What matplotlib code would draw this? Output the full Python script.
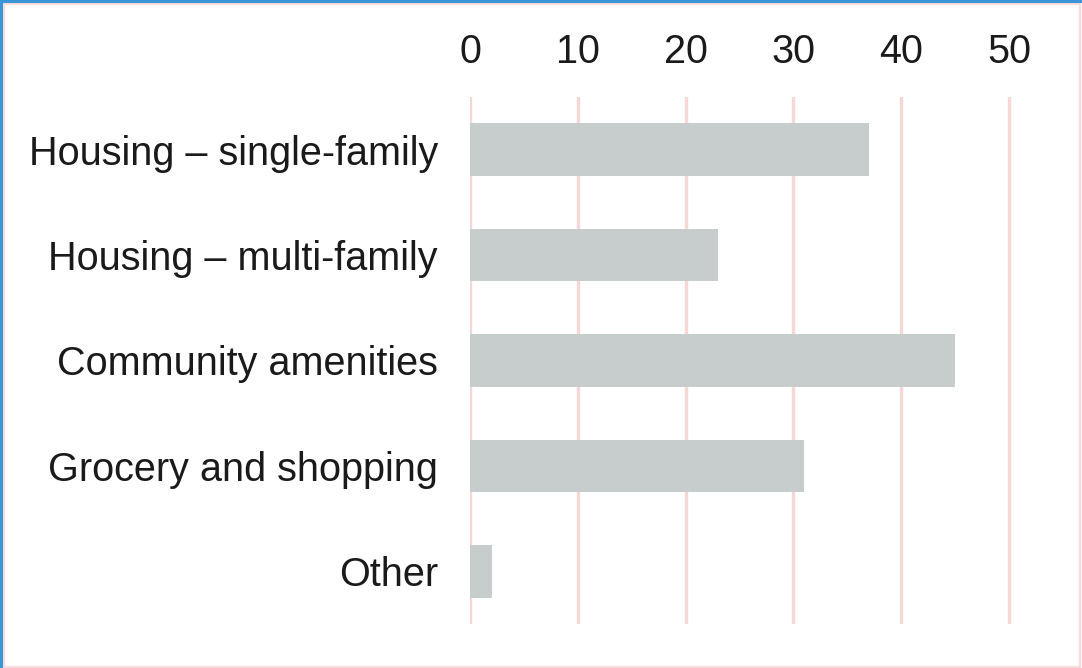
import matplotlib.pyplot as plt
from matplotlib.patches import Rectangle
from matplotlib.lines import Line2D

categories = ['Housing – single-family', 'Housing – multi-family', 'Community amenities',
              'Grocery and shopping', 'Other']
values = [37, 23, 45, 31, 2]
xticks = [0, 10, 20, 30, 40, 50]

plt.rcParams['font.family'] = ['Liberation Sans', 'DejaVu Sans']

fig = plt.figure(figsize=(10.82, 6.68), dpi=100)
ax = fig.add_axes([0.4344, 0.0659, 0.548, 0.7889])

pos = list(range(len(categories)))
ax.barh(pos, values, height=0.5, color='#c7cccc', zorder=2)
ax.set_ylim(len(categories) - 0.5, -0.5)
ax.set_xlim(0, 55)
ax.set_yticks(pos)
ax.set_yticklabels(categories)
ax.set_xticks(xticks)
ax.xaxis.tick_top()
ax.tick_params(axis='both', length=0, labelsize=28.5, labelcolor='#1a1a1a')
ax.tick_params(axis='x', pad=19)
ax.tick_params(axis='y', pad=23)
ax.grid(axis='x', color='#f7d6d6', linewidth=2.4, zorder=0)
ax.set_axisbelow(True)
for s in ax.spines.values():
    s.set_visible(False)

# frame around the figure
W, H = 1082, 668
fig.add_artist(Rectangle((3.5 / W, 1.5 / H), 1 - 5.5 / W, 1 - 5.5 / H, transform=fig.transFigure,
                         fill=False, edgecolor='#f8dcdc', linewidth=1.6))
fig.add_artist(Line2D([0, 1], [1 - 1.4 / H, 1 - 1.4 / H], transform=fig.transFigure,
                      color='#3a96d6', linewidth=2.2))
fig.add_artist(Line2D([1.4 / W, 1.4 / W], [0, 1], transform=fig.transFigure,
                      color='#3a96d6', linewidth=2.2))

fig.savefig('out.png', dpi=100)
